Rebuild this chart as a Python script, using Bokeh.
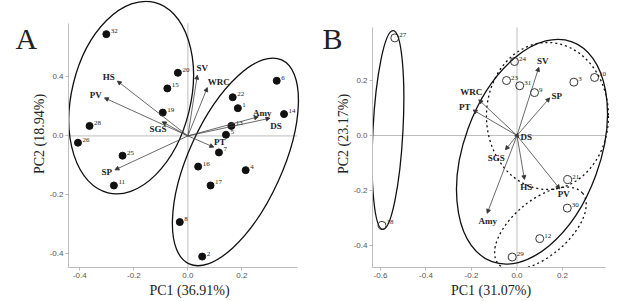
from bokeh.plotting import figure
from bokeh.layouts import row
from bokeh.models import ColumnDataSource, Arrow, NormalHead, Range1d, FixedTicker, Label
from bokeh.core.properties import value
from bokeh.embed import file_html
from bokeh.resources import INLINE
import math

# ---------------- Panel A data ----------------
a_ids = ["32", "28", "26", "25", "11", "20", "15", "19", "6", "22", "1", "14", "13", "5", "7", "16", "4", "17", "8", "2"]
a_pc1 = [-0.302, -0.364, -0.407, -0.242, -0.274, -0.037, -0.076, -0.093, 0.329, 0.166, 0.185, 0.356, 0.161, 0.141, 0.115, 0.038, 0.214, 0.084, -0.030, 0.053]
a_pc2 = [0.345, 0.034, -0.023, -0.067, -0.168, 0.214, 0.161, 0.079, 0.187, 0.131, 0.094, 0.074, 0.034, 0.004, -0.056, -0.104, -0.116, -0.168, -0.292, -0.409]
a_vars = ["HS", "PV", "SGS", "SV", "WRC", "Amy", "DS", "PT", "SP"]
a_load1 = [-0.261, -0.309, -0.095, 0.035, 0.072, 0.261, 0.304, 0.096, -0.270]
a_load2 = [0.186, 0.129, 0.048, 0.206, 0.164, 0.065, 0.060, -0.038, -0.115]
# group ellipses: centre (PC1, PC2)
a_ell_x = [-0.210, 0.176]
a_ell_y = [0.130, -0.088]
a_xticks = [-0.4, -0.2, 0.0, 0.2]
a_xlabels = ["-0.4", "-0.2", "0.0", "0.2"]
a_yticks = [-0.4, -0.2, 0.0, 0.2]
a_ylabels = ["-0.4", "-0.2", "0.0", "0.4"]

# ---------------- Panel B data ----------------
b_ids = ["27", "18", "24", "23", "31", "9", "3", "10", "21", "30", "12", "29"]
b_pc1 = [-0.537, -0.593, -0.011, -0.046, 0.012, 0.077, 0.250, 0.341, 0.223, 0.221, 0.100, -0.021]
b_pc2 = [0.355, -0.327, 0.269, 0.200, 0.181, 0.156, 0.194, 0.211, -0.160, -0.264, -0.375, -0.442]
b_vars = ["SV", "SP", "WRC", "PT", "DS", "SGS", "HS", "PV", "Amy"]
b_load1 = [0.096, 0.144, -0.168, -0.193, 0.008, -0.051, 0.033, 0.188, -0.131]
b_load2 = [0.248, 0.137, 0.130, 0.093, -0.008, -0.052, -0.160, -0.194, -0.283]
b_ell_x = [-0.567, 0.066, 0.134, 0.103]
b_ell_y = [0.020, -0.059, 0.071, -0.338]
b_xticks = [-0.6, -0.4, -0.2, 0.0, 0.2]
b_xlabels = ["-0.6", "-0.4", "-0.2", "0.0", "0.2"]
b_yticks = [-0.4, -0.2, 0.0, 0.2]
b_ylabels = ["-0.4", "-0.2", "0.0", "0.2"]

# ---------------- styling (screen px) ----------------
a_ell_w = [196, 224]      # full major axis, px
a_ell_h = [119, 94]       # full minor axis, px
a_ell_ang = [76.3, 65.6]
a_ell_dash = ["solid", "solid"]
b_ell_w = [199, 234, 122, 110]
b_ell_h = [30, 136, 147, 56]
b_ell_ang = [87.0, 70.0, 0.0, 40.0]
b_ell_dash = ["solid", "solid", "2 3", "2 3"]

a_lab_dx = [-8.7, -8.7, -4.2, 5.0, 11.5, 4.0, 6.0, 5.9, -8.3]
a_lab_dy = [-3.7, -2.7, 7.3, -7.3, -5.6, -3.4, 7.4, -5.6, 2.3]
b_lab_dx = [3.9, 7.0, -7.5, -8.2, 7.5, -9.2, 1.8, 4.0, 0.5]
b_lab_dy = [-6.0, -1.6, -7.6, -3.3, -0.8, 8.0, 7.7, 5.0, 7.3]

SERIF = "Liberation Serif"
SANS = "Liberation Sans"
AXIS_GREY = "#bdbdbd"


def make_panel(width, xr, yr, xb, yb, mbl, mbr, mbb, xticks, xlabels, yticks, ylabels, xtitle, ytitle):
    p = figure(width=width, height=301, x_range=Range1d(*xr), y_range=Range1d(*yr),
               output_backend="svg", toolbar_location=None,
               min_border_left=mbl, min_border_right=mbr, min_border_top=0, min_border_bottom=mbb)
    p.outline_line_color = None
    p.grid.visible = False
    p.background_fill_color = "white"
    for ax, b, t, l, title in ((p.xaxis[0], xb, xticks, xlabels, xtitle), (p.yaxis[0], yb, yticks, ylabels, ytitle)):
        ax.bounds = b
        ax.ticker = FixedTicker(ticks=t)
        ax.major_label_overrides = {tv: lv for tv, lv in zip(t, l)}
        ax.minor_tick_line_color = None
        ax.major_tick_in = 0
        ax.major_tick_out = 3
        ax.major_tick_line_color = AXIS_GREY
        ax.axis_line_color = AXIS_GREY
        ax.major_label_text_font = SANS
        ax.major_label_text_font_size = "8px"
        ax.major_label_text_color = "#555555"
        ax.major_label_standoff = 2
        ax.axis_label = title
        ax.axis_label_text_font = SERIF
        ax.axis_label_text_font_size = "14px"
        ax.axis_label_text_font_style = "normal"
        ax.axis_label_text_color = "#222222"
    p.xaxis.axis_label_standoff = 2
    p.yaxis.axis_label_standoff = 0
    # zero reference lines
    p.segment(x0=[0, xb[0]], y0=[yb[0], 0], x1=[0, xb[1]], y1=[yb[1], 0], line_color=AXIS_GREY, line_width=1)
    return p


def add_content(p, ex, ey, ew, eh, ea, ed, vars_, l1, l2, dx, dy, ids, s1, s2, filled,
                panel_letter, letter_x, letter_side):
    for i in range(len(ex)):
        p.ellipse(x=[ex[i]], y=[ey[i]], width=[ew[i]], height=[eh[i]], angle=[math.radians(ea[i])],
                  width_units="screen", height_units="screen",
                  fill_color=None, line_color="#111111", line_width=1.3, line_dash=ed[i])
    src = ColumnDataSource(dict(x0=[0.0] * len(vars_), y0=[0.0] * len(vars_), x1=l1, y1=l2,
                                name=vars_, dx=dx, dy=dy))
    p.add_layout(Arrow(end=NormalHead(size=4, fill_color="#333333", line_color="#333333", line_width=0.8),
                       x_start="x0", y_start="y0", x_end="x1", y_end="y1", source=src,
                       line_color="#444444", line_width=0.8))
    p.text(x="x1", y="y1", text="name", x_offset="dx", y_offset="dy", source=src,
           text_font=value(SERIF), text_font_style="bold", text_font_size="9px",
           text_align="center", text_baseline="middle", text_color="#222222")
    ps = ColumnDataSource(dict(x=s1, y=s2, id=ids))
    if filled:
        p.scatter(x="x", y="y", source=ps, size=7, marker="circle", fill_color="#111111", line_color="#111111")
    else:
        p.scatter(x="x", y="y", source=ps, size=8, marker="circle", fill_color=None, line_color="#222222", line_width=0.9)
    p.text(x="x", y="y", text="id", source=ps, x_offset=4.5, y_offset=-3,
           text_font=value(SERIF), text_font_size="7px", text_align="left", text_baseline="middle",
           text_color="#222222")
    # panel letter lives in a side panel (not clipped by the frame), placed in canvas pixels
    p.add_layout(Label(x=letter_x, y=38, x_units="canvas", y_units="canvas", text=panel_letter,
                       text_font=SERIF, text_font_size="30px", text_color="#222222",
                       text_align="left", text_baseline="alphabetic"), letter_side)


pA = make_panel(315, (-0.442, 0.454), (-0.446, 0.459), (-0.442, 0.406), (-0.446, 0.382),
                68, 5, 33, a_xticks, a_xlabels, a_yticks, a_ylabels, "PC1 (36.91%)", "PC2 (18.94%)")
add_content(pA, a_ell_x, a_ell_y, a_ell_w, a_ell_h, a_ell_ang, a_ell_dash, a_vars, a_load1, a_load2,
            a_lab_dx, a_lab_dy, a_ids, a_pc1, a_pc2, True, "A", 15, "left")

pB = make_panel(316, (-0.635, 0.4066), (-0.48, 0.491), (-0.635, 0.389), (-0.48, 0.393),
                57, 22, 34, b_xticks, b_xlabels, b_yticks, b_ylabels, "PC1 (31.07%)", "PC2 (23.17%)")
add_content(pB, b_ell_x, b_ell_y, b_ell_w, b_ell_h, b_ell_ang, b_ell_dash, b_vars, b_load1, b_load2,
            b_lab_dx, b_lab_dy, b_ids, b_pc1, b_pc2, False, "B", 7, "right")

layout = row(pA, pB)
open("out.html", "w").write(file_html(layout, INLINE))
